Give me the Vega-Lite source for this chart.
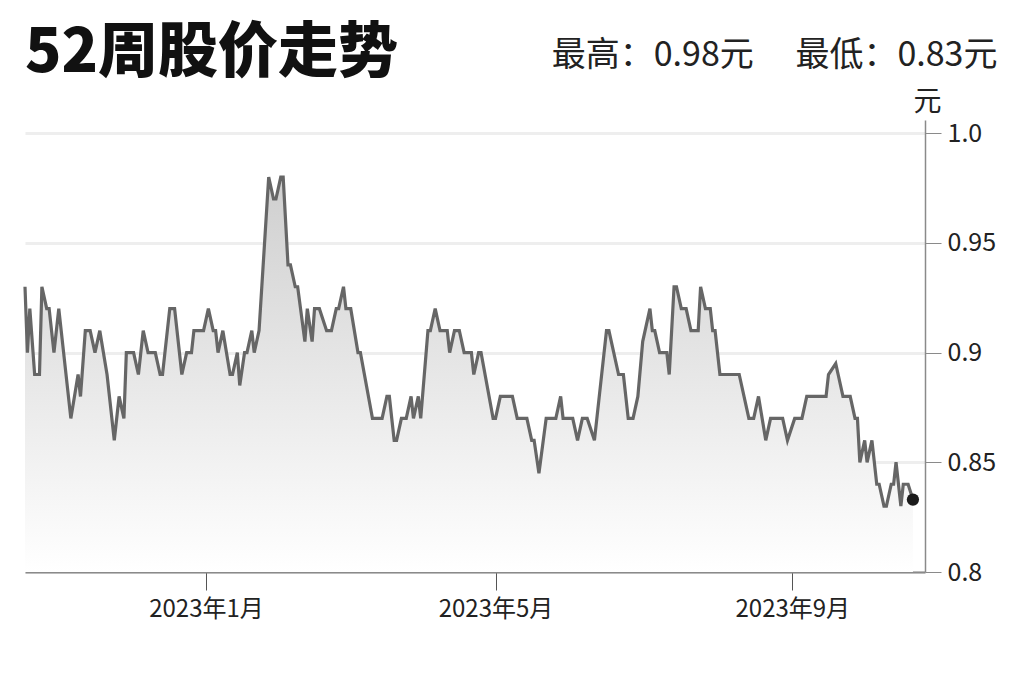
{
  "$schema": "https://vega.github.io/schema/vega-lite/v6.json",
  "autosize": {"type": "none"},
  "padding": {"left": 25, "top": 120, "right": 99, "bottom": 110},
  "width": 900,
  "height": 452,
  "background": "#ffffff",
  "title": {
    "text": "52周股价走势",
    "anchor": "start",
    "frame": "group",
    "font": "Noto Sans CJK SC",
    "fontSize": 60,
    "fontWeight": 900,
    "color": "#111111",
    "offset": -47
  },
  "data": {
    "values": [
      {"date": "2022-10-18", "price": 0.93},
      {"date": "2022-10-19", "price": 0.90},
      {"date": "2022-10-20", "price": 0.92},
      {"date": "2022-10-22", "price": 0.89},
      {"date": "2022-10-24", "price": 0.89},
      {"date": "2022-10-25", "price": 0.93},
      {"date": "2022-10-27", "price": 0.92},
      {"date": "2022-10-28", "price": 0.92},
      {"date": "2022-10-30", "price": 0.90},
      {"date": "2022-11-01", "price": 0.92},
      {"date": "2022-11-06", "price": 0.87},
      {"date": "2022-11-09", "price": 0.89},
      {"date": "2022-11-10", "price": 0.88},
      {"date": "2022-11-12", "price": 0.91},
      {"date": "2022-11-14", "price": 0.91},
      {"date": "2022-11-16", "price": 0.90},
      {"date": "2022-11-18", "price": 0.91},
      {"date": "2022-11-21", "price": 0.89},
      {"date": "2022-11-24", "price": 0.86},
      {"date": "2022-11-26", "price": 0.88},
      {"date": "2022-11-28", "price": 0.87},
      {"date": "2022-11-29", "price": 0.90},
      {"date": "2022-12-02", "price": 0.90},
      {"date": "2022-12-04", "price": 0.89},
      {"date": "2022-12-06", "price": 0.91},
      {"date": "2022-12-08", "price": 0.90},
      {"date": "2022-12-11", "price": 0.90},
      {"date": "2022-12-13", "price": 0.89},
      {"date": "2022-12-14", "price": 0.89},
      {"date": "2022-12-17", "price": 0.92},
      {"date": "2022-12-19", "price": 0.92},
      {"date": "2022-12-22", "price": 0.89},
      {"date": "2022-12-24", "price": 0.90},
      {"date": "2022-12-26", "price": 0.90},
      {"date": "2022-12-27", "price": 0.91},
      {"date": "2022-12-31", "price": 0.91},
      {"date": "2023-01-02", "price": 0.92},
      {"date": "2023-01-04", "price": 0.91},
      {"date": "2023-01-05", "price": 0.91},
      {"date": "2023-01-06", "price": 0.90},
      {"date": "2023-01-08", "price": 0.91},
      {"date": "2023-01-11", "price": 0.89},
      {"date": "2023-01-12", "price": 0.89},
      {"date": "2023-01-14", "price": 0.90},
      {"date": "2023-01-15", "price": 0.885},
      {"date": "2023-01-17", "price": 0.90},
      {"date": "2023-01-18", "price": 0.90},
      {"date": "2023-01-20", "price": 0.91},
      {"date": "2023-01-21", "price": 0.90},
      {"date": "2023-01-23", "price": 0.91},
      {"date": "2023-01-27", "price": 0.98},
      {"date": "2023-01-29", "price": 0.97},
      {"date": "2023-01-30", "price": 0.97},
      {"date": "2023-02-01", "price": 0.98},
      {"date": "2023-02-02", "price": 0.98},
      {"date": "2023-02-04", "price": 0.94},
      {"date": "2023-02-05", "price": 0.94},
      {"date": "2023-02-07", "price": 0.93},
      {"date": "2023-02-08", "price": 0.93},
      {"date": "2023-02-11", "price": 0.905},
      {"date": "2023-02-12", "price": 0.92},
      {"date": "2023-02-14", "price": 0.905},
      {"date": "2023-02-15", "price": 0.92},
      {"date": "2023-02-17", "price": 0.92},
      {"date": "2023-02-20", "price": 0.91},
      {"date": "2023-02-22", "price": 0.91},
      {"date": "2023-02-24", "price": 0.92},
      {"date": "2023-02-25", "price": 0.92},
      {"date": "2023-02-27", "price": 0.93},
      {"date": "2023-02-28", "price": 0.92},
      {"date": "2023-03-02", "price": 0.92},
      {"date": "2023-03-05", "price": 0.90},
      {"date": "2023-03-06", "price": 0.90},
      {"date": "2023-03-11", "price": 0.87},
      {"date": "2023-03-15", "price": 0.87},
      {"date": "2023-03-17", "price": 0.88},
      {"date": "2023-03-18", "price": 0.88},
      {"date": "2023-03-20", "price": 0.86},
      {"date": "2023-03-21", "price": 0.86},
      {"date": "2023-03-23", "price": 0.87},
      {"date": "2023-03-25", "price": 0.87},
      {"date": "2023-03-27", "price": 0.88},
      {"date": "2023-03-28", "price": 0.87},
      {"date": "2023-03-30", "price": 0.88},
      {"date": "2023-03-31", "price": 0.87},
      {"date": "2023-04-03", "price": 0.91},
      {"date": "2023-04-04", "price": 0.91},
      {"date": "2023-04-06", "price": 0.92},
      {"date": "2023-04-08", "price": 0.91},
      {"date": "2023-04-11", "price": 0.91},
      {"date": "2023-04-12", "price": 0.90},
      {"date": "2023-04-14", "price": 0.91},
      {"date": "2023-04-16", "price": 0.91},
      {"date": "2023-04-18", "price": 0.90},
      {"date": "2023-04-21", "price": 0.90},
      {"date": "2023-04-22", "price": 0.89},
      {"date": "2023-04-24", "price": 0.90},
      {"date": "2023-04-25", "price": 0.90},
      {"date": "2023-04-30", "price": 0.87},
      {"date": "2023-05-01", "price": 0.87},
      {"date": "2023-05-03", "price": 0.88},
      {"date": "2023-05-08", "price": 0.88},
      {"date": "2023-05-10", "price": 0.87},
      {"date": "2023-05-14", "price": 0.87},
      {"date": "2023-05-16", "price": 0.86},
      {"date": "2023-05-17", "price": 0.86},
      {"date": "2023-05-19", "price": 0.845},
      {"date": "2023-05-22", "price": 0.87},
      {"date": "2023-05-26", "price": 0.87},
      {"date": "2023-05-28", "price": 0.88},
      {"date": "2023-05-29", "price": 0.87},
      {"date": "2023-06-02", "price": 0.87},
      {"date": "2023-06-04", "price": 0.86},
      {"date": "2023-06-06", "price": 0.87},
      {"date": "2023-06-08", "price": 0.87},
      {"date": "2023-06-11", "price": 0.86},
      {"date": "2023-06-12", "price": 0.87},
      {"date": "2023-06-16", "price": 0.91},
      {"date": "2023-06-17", "price": 0.91},
      {"date": "2023-06-21", "price": 0.89},
      {"date": "2023-06-23", "price": 0.89},
      {"date": "2023-06-25", "price": 0.87},
      {"date": "2023-06-27", "price": 0.87},
      {"date": "2023-06-29", "price": 0.88},
      {"date": "2023-07-01", "price": 0.905},
      {"date": "2023-07-04", "price": 0.92},
      {"date": "2023-07-05", "price": 0.91},
      {"date": "2023-07-06", "price": 0.91},
      {"date": "2023-07-08", "price": 0.90},
      {"date": "2023-07-11", "price": 0.90},
      {"date": "2023-07-12", "price": 0.89},
      {"date": "2023-07-14", "price": 0.93},
      {"date": "2023-07-15", "price": 0.93},
      {"date": "2023-07-17", "price": 0.92},
      {"date": "2023-07-19", "price": 0.92},
      {"date": "2023-07-21", "price": 0.91},
      {"date": "2023-07-24", "price": 0.91},
      {"date": "2023-07-25", "price": 0.93},
      {"date": "2023-07-27", "price": 0.92},
      {"date": "2023-07-29", "price": 0.92},
      {"date": "2023-07-30", "price": 0.91},
      {"date": "2023-07-31", "price": 0.91},
      {"date": "2023-08-02", "price": 0.89},
      {"date": "2023-08-10", "price": 0.89},
      {"date": "2023-08-14", "price": 0.87},
      {"date": "2023-08-16", "price": 0.87},
      {"date": "2023-08-18", "price": 0.88},
      {"date": "2023-08-21", "price": 0.86},
      {"date": "2023-08-23", "price": 0.87},
      {"date": "2023-08-28", "price": 0.87},
      {"date": "2023-08-30", "price": 0.86},
      {"date": "2023-09-02", "price": 0.87},
      {"date": "2023-09-05", "price": 0.87},
      {"date": "2023-09-07", "price": 0.88},
      {"date": "2023-09-15", "price": 0.88},
      {"date": "2023-09-16", "price": 0.89},
      {"date": "2023-09-19", "price": 0.895},
      {"date": "2023-09-20", "price": 0.89},
      {"date": "2023-09-22", "price": 0.88},
      {"date": "2023-09-25", "price": 0.88},
      {"date": "2023-09-27", "price": 0.87},
      {"date": "2023-09-28", "price": 0.87},
      {"date": "2023-09-29", "price": 0.85},
      {"date": "2023-10-01", "price": 0.86},
      {"date": "2023-10-02", "price": 0.85},
      {"date": "2023-10-04", "price": 0.86},
      {"date": "2023-10-06", "price": 0.84},
      {"date": "2023-10-07", "price": 0.84},
      {"date": "2023-10-09", "price": 0.83},
      {"date": "2023-10-10", "price": 0.83},
      {"date": "2023-10-12", "price": 0.84},
      {"date": "2023-10-13", "price": 0.84},
      {"date": "2023-10-14", "price": 0.85},
      {"date": "2023-10-16", "price": 0.83},
      {"date": "2023-10-17", "price": 0.84},
      {"date": "2023-10-19", "price": 0.84},
      {"date": "2023-10-21", "price": 0.833}
    ]
  },
  "layer": [
    {
      "mark": {
        "type": "area",
        "color": {
          "gradient": "linear",
          "x1": 0, "y1": 0, "x2": 0, "y2": 1,
          "stops": [
            {"offset": 0, "color": "#cfcfcf"},
            {"offset": 1, "color": "#ffffff"}
          ]
        }
      },
      "encoding": {
        "x": {
          "field": "date",
          "type": "temporal",
          "scale": {
            "domain": [
              {"year": 2022, "month": 10, "date": 18, "utc": true},
              {"year": 2023, "month": 10, "date": 26, "utc": true}
            ]
          },
          "axis": {
            "orient": "bottom",
            "title": null,
            "grid": false,
            "values": [
              {"year": 2023, "month": 1, "date": 1, "utc": true},
              {"year": 2023, "month": 5, "date": 1, "utc": true},
              {"year": 2023, "month": 9, "date": 1, "utc": true}
            ],
            "labelExpr": "utcFormat(datum.value, '%Y年%-m月')",
            "domainColor": "#8a8a8a",
            "domainWidth": 2,
            "tickColor": "#555555",
            "tickSize": 18,
            "tickWidth": 1,
            "labelFont": "Noto Sans CJK SC",
            "labelFontSize": 24,
            "labelColor": "#222222",
            "labelPadding": 7
          }
        },
        "y": {
          "field": "price",
          "type": "quantitative",
          "scale": {"domain": [0.8, 1.006], "zero": false, "nice": false},
          "axis": {
            "orient": "right",
            "values": [0.8, 0.85, 0.9, 0.95, 1.0],
            "labelExpr": "datum.value >= 0.999 ? '1.0' : toString(round(datum.value * 100) / 100)",
            "title": "元",
            "titleAngle": 0,
            "titleX": 2,
            "titleY": -10,
            "titleAlign": "center",
            "titleBaseline": "alphabetic",
            "titleFont": "Noto Sans CJK SC",
            "titleFontSize": 28,
            "titleFontWeight": "normal",
            "titleColor": "#222222",
            "grid": true,
            "gridColor": "#eeeeee",
            "gridWidth": 3,
            "domainColor": "#8a8a8a",
            "domainWidth": 1.5,
            "tickColor": "#8a8a8a",
            "tickSize": 16,
            "labelFont": "Noto Sans CJK SC",
            "labelFontSize": 25,
            "labelColor": "#222222",
            "labelPadding": 6
          }
        },
        "y2": {"datum": 0.8}
      }
    },
    {
      "mark": {"type": "line", "color": "#666666", "strokeWidth": 3.2},
      "encoding": {
        "x": {"field": "date", "type": "temporal", "axis": null},
        "y": {"field": "price", "type": "quantitative"}
      }
    },
    {
      "data": {"values": [{"date": "2023-10-21", "price": 0.833}]},
      "mark": {"type": "point", "filled": true, "color": "#1a1a1a", "size": 150, "opacity": 1},
      "encoding": {
        "x": {
          "field": "date",
          "type": "temporal",
          "axis": {
            "orient": "top",
            "domain": false,
            "ticks": false,
            "labels": false,
            "grid": false,
            "title": "最高：0.98元　 最低：0.83元",
            "titleX": 972,
            "titleY": -55,
            "titleAlign": "right",
            "titleAnchor": "end",
            "titleBaseline": "alphabetic",
            "titleFont": "Noto Sans CJK SC",
            "titleFontSize": 34,
            "titleFontWeight": "normal",
            "titleColor": "#222222"
          }
        },
        "y": {"field": "price", "type": "quantitative"}
      }
    }
  ],
  "resolve": {"axis": {"x": "independent"}},
  "config": {
    "view": {"stroke": null},
    "font": "Noto Sans CJK SC"
  }
}
